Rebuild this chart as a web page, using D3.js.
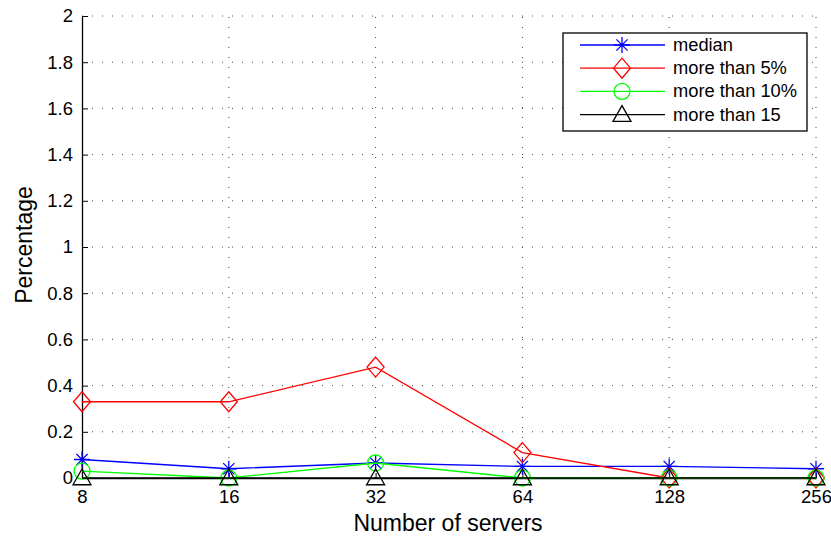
<!DOCTYPE html>
<html>
<head>
<meta charset="utf-8">
<script src="https://cdn.jsdelivr.net/npm/d3@7"></script>
<style>
  body { margin: 0; background: #fff; }
  svg { font-family: "Liberation Sans", Arial, Helvetica, sans-serif; }
</style>
</head>
<body>
<svg id="chart"></svg>
<script>
let servers = [8, 16, 32, 64, 128, 256];
let yTicks = [0, 0.2, 0.4, 0.6, 0.8, 1, 1.2, 1.4, 1.6, 1.8, 2];

let median = [0.08, 0.04, 0.065, 0.05, 0.05, 0.04];
let moreThan5 = [0.33, 0.33, 0.48, 0.11, 0, 0];
let moreThan10 = [0.03, 0, 0.065, 0, 0, 0];
let moreThan15 = [0, 0, 0, 0, 0, 0];

let seriesNames = ["median", "more than 5%", "more than 10%", "more than 15"];
let seriesColors = ["#0000ff", "#ff0000", "#00ff00", "#000000"];
let seriesMarkers = ["star", "diamond", "circle", "triangle"];
let seriesValues = [median, moreThan5, moreThan10, moreThan15];

let width = 831;
let height = 536;
let plotLeft = 82, plotRight = 816, plotTop = 16, plotBottom = 478;

let svg = d3.select("#chart").attr("width", width).attr("height", height);

let xScale = d3.scaleLog().base(2).domain([8, 256]).range([plotLeft, plotRight]);
let yScale = d3.scaleLinear().domain([0, 2]).range([plotBottom, plotTop]);

// grid
let grid = svg.append("g").attr("stroke", "#444").attr("stroke-width", 1)
  .attr("stroke-dasharray", "1,9");
grid.selectAll(".gx").data(servers.slice(1)).enter().append("line")
  .attr("x1", d => xScale(d)).attr("x2", d => xScale(d))
  .attr("y1", plotBottom).attr("y2", plotTop);
grid.selectAll(".gy").data(yTicks.slice(1)).enter().append("line")
  .attr("x1", plotLeft).attr("x2", plotRight)
  .attr("y1", d => yScale(d)).attr("y2", d => yScale(d));

// axes
let xAxis = d3.axisBottom(xScale).tickValues(servers).tickFormat(d3.format("d"))
  .tickSizeInner(-5).tickSizeOuter(0).tickPadding(12);
let yAxis = d3.axisLeft(yScale).tickValues(yTicks).tickFormat(d => d)
  .tickSizeInner(-6).tickSizeOuter(0).tickPadding(9);

let gx = svg.append("g").attr("transform", "translate(0," + plotBottom + ")").call(xAxis);
let gy = svg.append("g").attr("transform", "translate(" + plotLeft + ",0)").call(yAxis);
[gx, gy].forEach(g => {
  g.selectAll("path").attr("stroke", "#000").attr("stroke-width", 1.3);
  g.selectAll("line").attr("stroke", "#000");
  g.selectAll("text").attr("font-size", 18.5).attr("fill", "#000");
});

svg.append("text").attr("x", 448).attr("y", 531)
  .attr("text-anchor", "middle").attr("font-size", 23).text("Number of servers");
svg.append("text").attr("transform", "translate(32,245) rotate(-90)")
  .attr("text-anchor", "middle").attr("font-size", 23).text("Percentage");

let drawMarker = (g, type, color, x, y) => {
  if (type === "star") {
    let r = 8;
    let p = "M" + (x - r) + "," + y + "H" + (x + r) +
      "M" + x + "," + (y - r) + "V" + (y + r) +
      "M" + (x - r * 0.7) + "," + (y - r * 0.7) + "L" + (x + r * 0.7) + "," + (y + r * 0.7) +
      "M" + (x - r * 0.7) + "," + (y + r * 0.7) + "L" + (x + r * 0.7) + "," + (y - r * 0.7);
    g.append("path").attr("d", p).attr("stroke", color).attr("stroke-width", 1.3).attr("fill", "none");
  } else if (type === "diamond") {
    let r = 10;
    g.append("path").attr("d", "M" + x + "," + (y - r) + "L" + (x + r * 0.85) + "," + y +
      "L" + x + "," + (y + r) + "L" + (x - r * 0.85) + "," + y + "Z")
      .attr("stroke", color).attr("stroke-width", 1.3).attr("fill", "none");
  } else if (type === "circle") {
    g.append("circle").attr("cx", x).attr("cy", y).attr("r", 8)
      .attr("stroke", color).attr("stroke-width", 1.3).attr("fill", "none");
  } else {
    let r = 9;
    g.append("path").attr("d", "M" + x + "," + (y - r) + "L" + (x + r) + "," + (y + r * 0.75) +
      "L" + (x - r) + "," + (y + r * 0.75) + "Z")
      .attr("stroke", color).attr("stroke-width", 1.3).attr("fill", "none");
  }
};

let line = d3.line().x((d, i) => xScale(servers[i])).y(d => yScale(d));

seriesValues.forEach((vals, k) => {
  let g = svg.append("g");
  g.append("path").datum(vals).attr("d", line)
    .attr("fill", "none").attr("stroke", seriesColors[k]).attr("stroke-width", 1.3);
  vals.forEach((v, i) => drawMarker(g, seriesMarkers[k], seriesColors[k], xScale(servers[i]), yScale(v)));
});

// legend
let lg = svg.append("g");
lg.append("rect").attr("x", 563).attr("y", 33).attr("width", 244).attr("height", 98)
  .attr("fill", "#fff").attr("stroke", "#000").attr("stroke-width", 1.3);
seriesNames.forEach((name, k) => {
  let y = 45 + k * 23.2;
  lg.append("line").attr("x1", 580).attr("x2", 665).attr("y1", y).attr("y2", y)
    .attr("stroke", seriesColors[k]).attr("stroke-width", 1.3);
  drawMarker(lg, seriesMarkers[k], seriesColors[k], 622, y);
  lg.append("text").attr("x", 673).attr("y", y + 6).attr("font-size", 18.3).text(name);
});
</script>
</body>
</html>
